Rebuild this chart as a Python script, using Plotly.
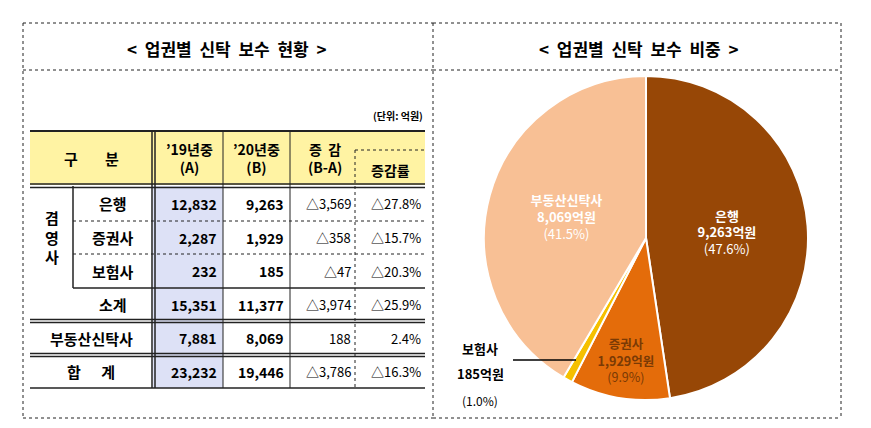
import plotly.graph_objects as go

W, H = 871, 428
FONT = "Noto Sans CJK KR"

# pie data
pie_labels = ["은행", "증권사", "보험사", "부동산신탁사"]
pie_values = [9263, 1929, 185, 8069]
pie_shares = ["47.6%", "9.9%", "1.0%", "41.5%"]
pie_colors = ["#974706", "#E46C0A", "#F5C000", "#F8C095"]
pie_text_colors = ["white", "#7A3A05", "black", "white"]

# table data
row_names = ["은행", "증권사", "보험사", "소계", "부동산신탁사", "합      계"]
col_19 = ["12,832", "2,287", "232", "15,351", "7,881", "23,232"]
col_20 = ["9,263", "1,929", "185", "11,377", "8,069", "19,446"]
col_diff = ["△3,569", "△358", "△47", "△3,974", "188", "△3,786"]
col_rate = ["△27.8%", "△15.7%", "△20.3%", "△25.9%", "2.4%", "△16.3%"]


def px(x):
    return x / W


def py(y):
    return 1 - y / H


shapes = []
annotations = []


def line(x0, y0, x1, y1, dash="solid", width=1, color="#222"):
    shapes.append(dict(type="line", xref="paper", yref="paper",
                       x0=px(x0), y0=py(y0), x1=px(x1), y1=py(y1),
                       line=dict(color=color, width=width, dash=dash)))


def rect(x0, y0, x1, y1, fill):
    shapes.append(dict(type="rect", xref="paper", yref="paper", layer="below",
                       x0=px(x0), y0=py(y0), x1=px(x1), y1=py(y1),
                       fillcolor=fill, line=dict(width=0)))


def text(x, y, s, size=14, bold=False, xanchor="center", color="black"):
    if bold:
        s = f"<b>{s}</b>"
    annotations.append(dict(x=px(x), y=py(y), xref="paper", yref="paper", text=s,
                            showarrow=False, xanchor=xanchor, yanchor="middle",
                            font=dict(family=FONT, size=size, color=color)))


# panels
for x0, x1 in [(15, 425), (425, 833)]:
    line(x0, 15, x1, 15, "dot")
    line(x0, 410, x1, 410, "dot")
    line(x0, 62, x1, 62, "dot")
line(15, 15, 15, 410, "dot")
line(425, 15, 425, 410, "dot")
line(833, 15, 833, 410, "dot")
text(218, 40, "<  업권별  신탁  보수  현황  >", 17, True)
text(630, 40, "<  업권별  신탁  보수  비중  >", 17, True)

# table grid
cx = [22, 65, 144, 215, 282, 347, 417]
ry = [178, 213, 246, 280, 313, 347, 380]
top = 123
rect(cx[0], top, cx[-1], 177, "#FFF3A3")
rect(cx[3] - 70, 178, cx[3], 380, "#DDE1F6")
line(cx[0], top, cx[-1], top, width=2)
line(cx[0], 176, cx[-1], 176, width=1.5)
line(cx[0], 179.5, cx[-1], 179.5, width=1.5)
line(cx[2], top, cx[2], 380, width=1.5)
line(cx[2] + 3, top, cx[2] + 3, 380, width=1.5)
line(cx[3], top, cx[3], 380)
line(cx[4], top, cx[4], 380)
line(cx[5], 142, cx[5], 380, "dot")
line(cx[5], 142, cx[6], 142, "dot")
line(cx[1], 178, cx[1], 280, width=1.5)
line(cx[1], ry[1], cx[-1], ry[1], "dot")
line(cx[1], ry[2], cx[-1], ry[2], "dot")
line(cx[1], ry[3], cx[-1], ry[3], width=1.5)
for y in (ry[4], ry[5]):
    line(cx[0], y - 1.5, cx[-1], y - 1.5, width=1.5)
    line(cx[0], y + 1.5, cx[-1], y + 1.5, width=1.5)
line(cx[0], 380, cx[-1], 380, width=1.5)

text(417, 108, "(단위: 억원)", 10, True, "right")
text(83, 150, "구        분", 15, True)
text((cx[2] + cx[3]) / 2 + 2, 150, "’19년중<br>(A)", 14, True)
text((cx[3] + cx[4]) / 2, 150, "’20년중<br>(B)", 14, True)
text((cx[4] + cx[5]) / 2 + 2, 150, "증  감<br>(B-A)", 14, True)
text((cx[5] + cx[6]) / 2, 162, "증감률", 14, True)
text((cx[0] + cx[1]) / 2, 229, "겸<br>영<br>사", 15, True)

for i, name in enumerate(row_names):
    yc = (ry[i] + ry[i + 1]) / 2
    if i < 4:
        text((cx[1] + cx[2]) / 2, yc, name, 15, True)
    else:
        text((cx[0] + cx[2]) / 2, yc, name, 15, True)
    text(cx[3] - 4, yc, col_19[i], 14, True, "right")
    text(cx[4] - 4, yc, col_20[i], 14, True, "right")
    text(cx[5] - 2, yc, col_diff[i], 13, False, "right")
    text(cx[6] - 2, yc, col_rate[i], 13, False, "right")

# pie labels
pie_texts = []
for lab, val, sh in zip(pie_labels, pie_values, pie_shares):
    if lab == "보험사":
        pie_texts.append("")
    else:
        pie_texts.append(f"<b>{lab}</b><br><b>{val:,}억원</b><br>({sh})")

fig = go.Figure(go.Pie(
    labels=pie_labels, values=pie_values, text=pie_texts,
    textinfo="text", textposition="inside", insidetextorientation="horizontal",
    sort=False, direction="clockwise", rotation=0,
    marker=dict(colors=pie_colors, line=dict(color="white", width=2)),
    textfont=dict(family=FONT, size=13, color=pie_text_colors),
    domain=dict(x=[px(476), px(800)], y=[py(392), py(68)]),
    hoverinfo="label+value",
))

ins = pie_labels.index("보험사")
line(505, 352, 568, 352, width=1.5, color="black")
text(472, 340, f"<b>{pie_labels[ins]}</b>", 13)
text(472, 365, f"<b>{pie_values[ins]}억원</b>", 13)
text(472, 392, f"({pie_shares[ins]})", 12)

fig.update_layout(
    width=W, height=H, margin=dict(l=0, r=0, t=0, b=0),
    paper_bgcolor="white", plot_bgcolor="white", showlegend=False,
    shapes=shapes, annotations=annotations,
)
fig.write_html("out.html")
